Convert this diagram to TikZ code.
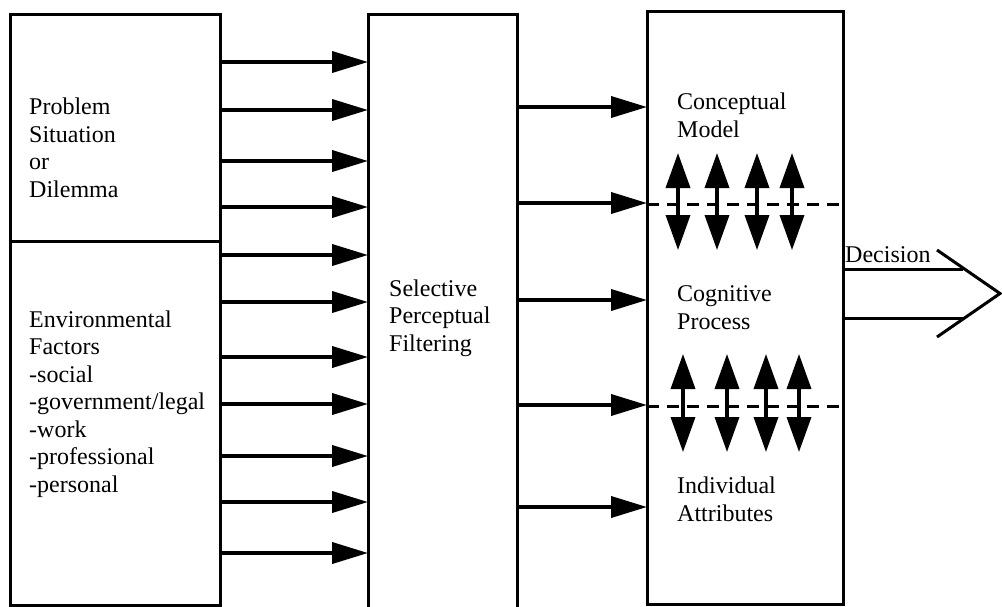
\documentclass[tikz,border=0pt]{standalone}
\usepackage{fontspec}
\setmainfont{Liberation Serif}
\usetikzlibrary{arrows.meta}
\begin{document}
\begin{tikzpicture}[x=1pt,y=-1pt,
  box/.style={draw, line width=3pt, inner sep=0pt, outer sep=0pt},
  lbl/.style={anchor=base west, align=left, inner sep=0pt,
              font=\fontsize{24}{27.5}\selectfont},
  feed/.style={line width=3.8pt, -{Triangle[length=36pt,width=21pt]}},
  both/.style={line width=3.6pt,
               {Triangle[length=35pt,width=24pt]}-{Triangle[length=35pt,width=24pt]}},
  sep/.style={line width=3pt, dash pattern=on 12pt off 8pt},
  decline/.style={line width=3pt, line join=miter}]
\useasboundingbox (0,0) rectangle (1002,606);
\fill[white] (0,0) rectangle (1002,606);

% the three blocks
\node[box, minimum width=210pt, minimum height=227pt] (prob) at (115,127.5) {};
\node[box, minimum width=210pt, minimum height=364pt] (env)  at (115,423) {};
\node[box, minimum width=149pt, minimum height=600pt] (filt) at (442.5,314) {};
\node[box, minimum width=196pt, minimum height=593pt] (mind) at (745,307.5) {};

% labels (anchored at the baseline of their last line)
\node[lbl] (probtxt) at (29,197) {Problem\\Situation\\or\\Dilemma};
\node[lbl] (envtxt)  at (29,492) {Environmental\\Factors\\-social\\-government/legal\\-work\\-professional\\-personal};
\node[lbl] (filttxt) at (389,351) {Selective\\Perceptual\\Filtering};
\node[lbl] (cmtxt)   at (677,137) {Conceptual\\Model};
\node[lbl] (cptxt)   at (677,329) {Cognitive\\Process};
\node[lbl] (iatxt)   at (677,521) {Individual\\Attributes};
\node[lbl] (dectxt)  at (845,262) {Decision};

% inputs into the filter
\foreach \y in {62,110,161,207}
  \draw[feed] (prob.east |- 0,\y) -- (filt.west |- 0,\y);
\foreach \y in {255,302,357,404,456,502,553}
  \draw[feed] (env.east |- 0,\y) -- (filt.west |- 0,\y);

% filtered information into the decision maker
\foreach \y in {107,203,300,405,507}
  \draw[feed] (filt.east |- 0,\y) -- (mind.west |- 0,\y);

% layer boundaries inside the decision maker
\draw[sep] (mind.west |- 0,204) -- (mind.east |- 0,204);
\draw[sep] (mind.west |- 0,406) -- (mind.east |- 0,406);

% two-way exchanges between layers
\foreach \x in {678,717,757,792}
  \draw[both] (\x,153) -- (\x,250);
\foreach \x in {683,727,766,799}
  \draw[both] (\x,354) -- (\x,452);

% decision output
\coordinate (headtop) at (937,250);
\coordinate (tip) at (1000,293.5);
\coordinate (headbot) at (937,337);
\draw[decline] (mind.east |- 0,269) -- (963,269);
\draw[decline] (mind.east |- 0,318) -- (963,318);
\draw[decline] (headtop) -- (tip) -- (headbot);
\end{tikzpicture}
\end{document}
